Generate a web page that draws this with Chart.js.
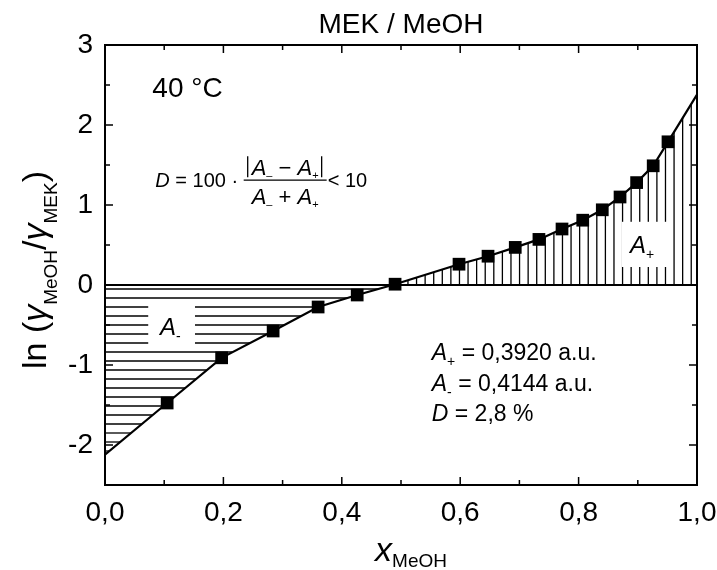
<!DOCTYPE html>
<html>
<head>
<meta charset="utf-8">
<title>MEK / MeOH</title>
<script src="https://cdn.jsdelivr.net/npm/chart.js@4.4.0/dist/chart.umd.min.js"></script>
<style>
  body { margin: 0; background: #fff; }
  #wrap { width: 717px; height: 570px; }
</style>
</head>
<body>
<div id="wrap"><canvas id="chart"></canvas></div>

<script>
// measured points  x_MeOH / ln(gMeOH/gMEK)
var xMeOH = [0.105, 0.197, 0.284, 0.360, 0.426, 0.490, 0.598, 0.647, 0.693, 0.733, 0.772, 0.807, 0.840, 0.870, 0.898, 0.926, 0.951];
var lnRatio = [-1.475, -0.91, -0.575, -0.275, -0.125, 0.01, 0.26, 0.36, 0.47, 0.57, 0.70, 0.81, 0.94, 1.10, 1.28, 1.49, 1.79];

// fitted curve
var fitX = [0, 0.105, 0.197, 0.284, 0.360, 0.426, 0.490, 0.598, 0.647, 0.693, 0.733, 0.772, 0.807, 0.840, 0.870, 0.898, 0.926, 0.951, 1.0];
var fitY = [-2.12, -1.475, -0.91, -0.575, -0.275, -0.125, 0.01, 0.26, 0.36, 0.47, 0.57, 0.70, 0.81, 0.94, 1.10, 1.28, 1.49, 1.79, 2.38];

var xTicks = [0, 0.2, 0.4, 0.6, 0.8, 1.0];
var yTicks = [-2, -1, 0, 1, 2, 3];

var FONT = 'Arial, "Liberation Sans", sans-serif';

function pairs(xs, ys) {
  return xs.map(function(x, i) { return { x: x, y: ys[i] }; });
}

function fitAt(x) {
  for (var i = 0; i < fitX.length - 1; i++) {
    if (x >= fitX[i] && x <= fitX[i + 1]) {
      var t = (x - fitX[i]) / (fitX[i + 1] - fitX[i]);
      return fitY[i] + t * (fitY[i + 1] - fitY[i]);
    }
  }
  return fitY[fitY.length - 1];
}
function fitInv(y) {
  for (var i = 0; i < fitY.length - 1; i++) {
    if (y >= fitY[i] && y <= fitY[i + 1]) {
      var t = (y - fitY[i]) / (fitY[i + 1] - fitY[i]);
      return fitX[i] + t * (fitX[i + 1] - fitX[i]);
    }
  }
  return 0;
}

// draws a row of text pieces; piece = [text, font, dy]
function runs(ctx, x, y, parts, measureOnly) {
  var cx = x;
  parts.forEach(function(p) {
    ctx.font = p[1];
    if (!measureOnly) ctx.fillText(p[0], cx, y + (p[2] || 0));
    cx += ctx.measureText(p[0]).width;
  });
  return cx - x;
}

var hatchPlugin = {
  id: 'hatch',
  beforeDatasetsDraw: function(chart) {
    var ctx = chart.ctx, xs = chart.scales.x, ys = chart.scales.y;
    var X = function(v) { return xs.getPixelForValue(v); };
    var Y = function(v) { return ys.getPixelForValue(v); };
    ctx.save();
    ctx.strokeStyle = '#000';
    ctx.lineWidth = 1.3;
    // horizontal hatch under zero
    for (var yv = -0.05; yv > fitY[0]; yv -= 0.1125) {
      ctx.beginPath();
      ctx.moveTo(X(0), Y(yv));
      ctx.lineTo(X(fitInv(yv)), Y(yv));
      ctx.stroke();
    }
    // vertical hatch above zero
    var x0 = fitInv(0);
    for (var xv = x0 + 0.012; xv < 1.0; xv += 0.0145) {
      ctx.beginPath();
      ctx.moveTo(X(xv), Y(0));
      ctx.lineTo(X(xv), Y(fitAt(xv)));
      ctx.stroke();
    }
    // zero line
    ctx.lineWidth = 2;
    ctx.beginPath();
    ctx.moveTo(X(0), Y(0));
    ctx.lineTo(X(1), Y(0));
    ctx.stroke();

    // white boxes behind the area labels
    ctx.fillStyle = '#fff';
    ctx.fillRect(X(0.073), Y(-0.25), X(0.152) - X(0.073), Y(-0.75) - Y(-0.25));
    ctx.fillRect(X(0.873), Y(0.79), X(0.954) - X(0.873), Y(0.225) - Y(0.79));
    ctx.fillStyle = '#000';
    ctx.textBaseline = 'alphabetic';
    ctx.textAlign = 'left';
    runs(ctx, X(0.093), Y(-0.625), [['A', 'italic 24px ' + FONT], ['-', '14px ' + FONT, 6]]);
    runs(ctx, X(0.887), Y(0.40), [['A', 'italic 24px ' + FONT], ['+', '14px ' + FONT, 6]]);
    ctx.restore();
  },
  afterDraw: function(chart) {
    var ctx = chart.ctx, xs = chart.scales.x, ys = chart.scales.y, a = chart.chartArea;
    var X = function(v) { return xs.getPixelForValue(v); };
    var Y = function(v) { return ys.getPixelForValue(v); };
    ctx.save();
    ctx.strokeStyle = '#000';
    ctx.fillStyle = '#000';
    ctx.lineWidth = 2;
    ctx.strokeRect(a.left, a.top, a.right - a.left, a.bottom - a.top);
    // inward ticks on all four sides
    ctx.lineWidth = 1.5;
    ctx.beginPath();
    for (var i = 0; i <= 10; i++) {
      var v = i / 10, len = i % 2 === 0 ? 8 : 5, px = X(v);
      ctx.moveTo(px, a.bottom); ctx.lineTo(px, a.bottom - len);
      ctx.moveTo(px, a.top); ctx.lineTo(px, a.top + len);
    }
    for (var j = 0; j <= 11; j++) {
      var w = -2.5 + j * 0.5, l2 = j % 2 === 1 ? 8 : 5, py = Y(w);
      ctx.moveTo(a.left, py); ctx.lineTo(a.left + l2, py);
      ctx.moveTo(a.right, py); ctx.lineTo(a.right - l2, py);
    }
    ctx.stroke();

    // title
    ctx.textAlign = 'center';
    ctx.textBaseline = 'alphabetic';
    ctx.font = '28px ' + FONT;
    ctx.fillText('MEK / MeOH', (a.left + a.right) / 2, 33);

    ctx.textAlign = 'left';
    ctx.font = '28px ' + FONT;
    ctx.fillText('40 °C', X(0.08), Y(2.35));

    // results
    var rf = '23px ' + FONT, ri = 'italic 23px ' + FONT, rs = '14px ' + FONT;
    runs(ctx, X(0.552), Y(-0.94), [['A', ri], ['+', rs, 6], [' = 0,3920 a.u.', rf]]);
    runs(ctx, X(0.552), Y(-1.325), [['A', ri], ['-', rs, 6], [' = 0,4144 a.u.', rf]]);
    runs(ctx, X(0.552), Y(-1.70), [['D', ri], [' = 2,8 %', rf]]);

    // formula D = 100 * |A- - A+| / (A- + A+) < 10
    var ff = '20px ' + FONT, fi = 'italic 20px ' + FONT, fs = '11px ' + FONT;
    var gf = '22px ' + FONT, gi = 'italic 22px ' + FONT;
    var fy = Y(1.31) + 7;
    var fx = X(0.085);
    fx += runs(ctx, fx, fy, [['D', fi], [' = 100 \u00b7 ', ff]]);
    var num = [['A', gi], ['\u2013', fs, 4], [' \u2212 ', gf], ['A', gi], ['+', fs, 4]];
    var den = [['A', gi], ['\u2013', fs, 4], [' + ', gf], ['A', gi], ['+', fs, 4]];
    var wn = runs(ctx, 0, 0, num, true);
    var wd = runs(ctx, 0, 0, den, true);
    var fw = Math.max(wn + 12, wd) + 4;
    var barY = fy - 7;
    runs(ctx, fx + (fw - wn) / 2, barY - 5, num);
    runs(ctx, fx + (fw - wd) / 2, barY + 24, den);
    ctx.lineWidth = 1.3;
    ctx.beginPath();
    ctx.moveTo(fx, barY); ctx.lineTo(fx + fw, barY);
    ctx.moveTo(fx + (fw - wn) / 2 - 4, barY - 24); ctx.lineTo(fx + (fw - wn) / 2 - 4, barY - 3);
    ctx.moveTo(fx + (fw + wn) / 2 + 3, barY - 24); ctx.lineTo(fx + (fw + wn) / 2 + 3, barY - 3);
    ctx.stroke();
    runs(ctx, fx + fw + 1, fy, [['< 10', ff]]);

    // axis titles
    var xt = [['x', 'italic 34px ' + FONT], ['MeOH', '19px ' + FONT, 6]];
    var wx = runs(ctx, 0, 0, xt, true);
    runs(ctx, (a.left + a.right) / 2 + 10 - wx / 2, 561, xt);

    ctx.save();
    ctx.translate(46, 270);
    ctx.rotate(-Math.PI / 2);
    var yt = [['ln (', '34px ' + FONT], ['\u03b3', 'italic 34px ' + FONT], ['MeOH', '19px ' + FONT, 11],
              ['/', '34px ' + FONT], ['\u03b3', 'italic 34px ' + FONT], ['MEK', '19px ' + FONT, 11], [')', '34px ' + FONT]];
    var wy = runs(ctx, 0, 0, yt, true);
    runs(ctx, -wy / 2, 0, yt);
    ctx.restore();
    ctx.restore();
  }
};

var config = {
  type: 'scatter',
  data: {
    datasets: [{
      label: 'fit',
      data: pairs(fitX, fitY),
      showLine: true,
      borderColor: '#000',
      borderWidth: 2.2,
      pointRadius: 0,
      tension: 0
    }, {
      label: 'data',
      data: pairs(xMeOH, lnRatio),
      pointStyle: 'rect',
      pointRadius: 9,
      backgroundColor: '#000',
      borderColor: '#000',
      borderWidth: 0
    }]
  },
  options: {
    responsive: true,
    maintainAspectRatio: false,
    animation: false,
    layout: { padding: { left: 0, top: 45, right: 0, bottom: 0 } },
    plugins: { legend: { display: false }, tooltip: { enabled: false } },
    scales: {
      x: {
        min: 0, max: 1,
        grid: { display: false, drawTicks: false },
        border: { display: false },
        afterBuildTicks: function(s) { s.ticks = xTicks.map(function(v) { return { value: v }; }); },
        afterFit: function(s) { s.height = 85; s.paddingLeft = 0; s.paddingRight = 20; },
        ticks: {
          padding: 11,
          color: '#000',
          font: { family: FONT, size: 28 },
          maxRotation: 0,
          callback: function(v) { return v.toFixed(1).replace('.', ','); }
        }
      },
      y: {
        min: -2.5, max: 3,
        grid: { display: false, drawTicks: false },
        border: { display: false },
        afterBuildTicks: function(s) { s.ticks = yTicks.map(function(v) { return { value: v }; }); },
        afterFit: function(s) { s.width = 105; s.paddingTop = 0; s.paddingBottom = 0; },
        ticks: {
          padding: 12,
          color: '#000',
          font: { family: FONT, size: 28 },
          callback: function(v) { return String(v); }
        }
      }
    }
  },
  plugins: [hatchPlugin]
};

window.onload = function() {
  var ctx = document.getElementById('chart').getContext('2d');
  window.myChart = new Chart(ctx, config);
};
</script>
</body>
</html>
